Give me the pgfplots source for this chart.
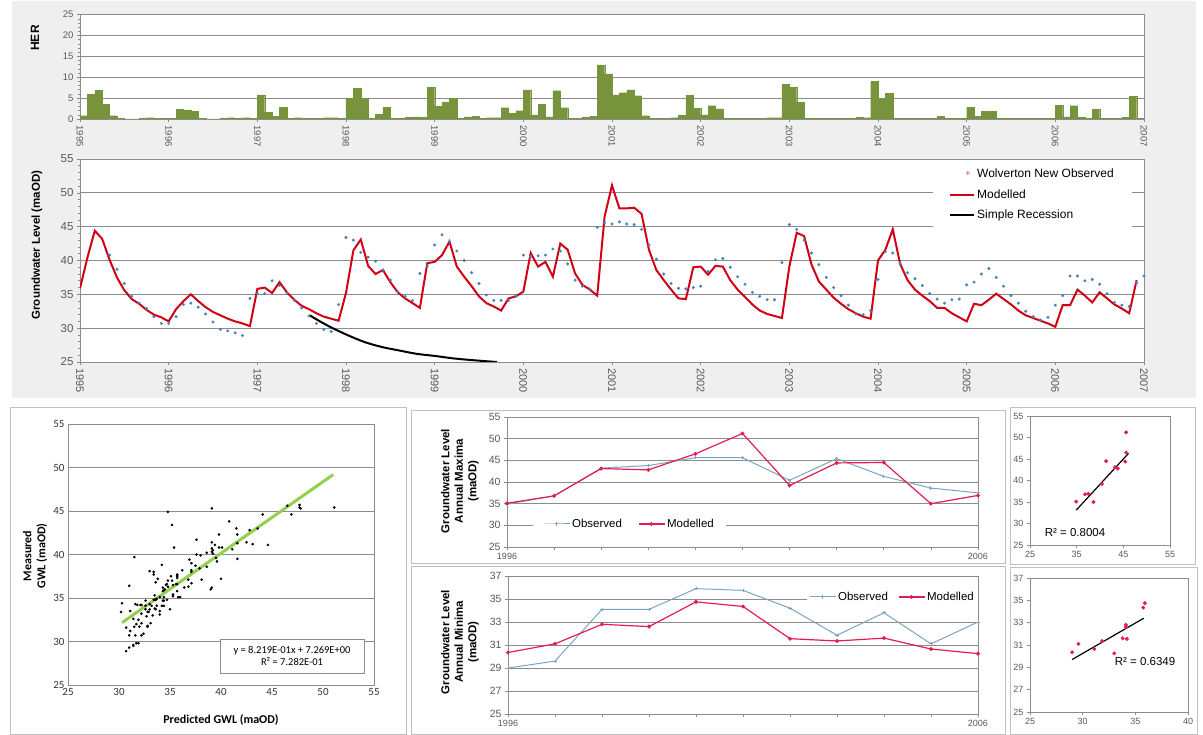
\documentclass[border=0pt]{standalone}
\usepackage{pgfplots}
\pgfplotsset{compat=1.18}
\usepackage{pgfplotstable}
\usepackage{fontspec}
\setmainfont{Liberation Sans}
\newfontfamily\calibri{Carlito}

\definecolor{herg}{RGB}{119,147,60}
\definecolor{obsb}{RGB}{70,130,190}
\definecolor{modr}{RGB}{210,0,20}
\definecolor{gridg}{RGB}{140,140,140}
\definecolor{panelg}{RGB}{239,239,239}
\definecolor{boxg}{RGB}{192,192,192}
\definecolor{annobs}{RGB}{125,165,195}
\definecolor{annmod}{RGB}{225,30,80}
\definecolor{trendg}{RGB}{146,208,80}
\definecolor{tickg}{RGB}{89,89,89}

% monthly series: m = months since Jan 1995
\pgfplotstableread{
m her obs mod
0 0.8 nan 35.9
1 5.9 nan 40.4
2 6.9 nan 44.4
3 3.5 nan 43.2
4 0.8 40.8 40.1
5 0.1 38.7 37.5
6 0.0 36.6 35.6
7 0.0 34.7 34.3
8 0.2 33.7 33.6
9 0.3 32.9 32.7
10 0.2 31.7 32.0
11 0.1 30.7 31.6
12 0.1 30.7 31.0
13 2.3 31.7 32.8
14 2.2 33.5 34.0
15 1.8 33.7 35.0
16 0.2 33.1 34.0
17 0.0 32.1 33.1
18 0.0 30.9 32.4
19 0.2 29.8 31.9
20 0.3 29.6 31.4
21 0.1 29.3 31.0
22 0.3 28.9 30.7
23 0.2 34.4 30.3
24 5.8 35.1 35.8
25 1.6 35.1 36.0
26 0.6 37.0 35.2
27 2.8 36.3 36.8
28 0.1 35.2 35.3
29 0.3 34.1 34.2
30 0.1 33.0 33.3
31 0.1 31.8 32.8
32 0.2 30.7 32.2
33 0.3 29.8 31.7
34 0.3 29.5 31.4
35 0.2 33.5 31.1
36 5.0 43.4 35.2
37 7.4 43.0 41.5
38 5.0 41.2 43.1
39 0.1 40.5 39.2
40 1.1 39.9 38.0
41 2.8 38.6 38.6
42 0.1 37.1 36.8
43 0.2 35.4 35.3
44 0.4 34.7 34.4
45 0.5 34.1 33.7
46 0.4 38.1 33.0
47 7.6 39.2 39.6
48 3.0 42.3 39.8
49 4.0 43.8 40.8
50 5.0 42.8 42.8
51 0.1 41.4 39.1
52 0.5 40.0 37.6
53 0.6 38.2 36.2
54 0.2 36.6 34.7
55 0.3 34.9 33.7
56 0.3 34.1 33.2
57 2.7 34.1 32.6
58 1.3 34.1 34.4
59 2.0 34.8 34.7
60 7.0 40.8 35.4
61 1.0 40.6 41.1
62 3.5 40.7 39.1
63 0.5 40.8 39.8
64 6.8 41.7 37.6
65 2.7 41.4 42.5
66 0.1 39.5 41.6
67 0.2 37.1 38.1
68 0.5 36.2 36.4
69 0.6 35.8 35.7
70 13.0 44.9 34.8
71 10.8 45.6 46.5
72 5.8 45.4 51.1
73 6.3 45.7 47.7
74 7.0 45.4 47.7
75 5.6 45.3 47.8
76 0.8 44.6 46.9
77 0.1 42.3 41.6
78 0.1 40.2 38.6
79 0.2 38.0 37.1
80 0.3 36.6 35.7
81 0.9 35.9 34.4
82 5.7 35.8 34.3
83 2.6 36.0 39.0
84 1.0 36.2 39.1
85 3.2 38.4 37.9
86 2.4 40.1 39.2
87 0.1 40.3 39.1
88 0.1 39.0 37.1
89 0.1 37.6 35.7
90 0.2 36.5 34.6
91 0.1 35.3 33.5
92 0.1 34.7 32.6
93 0.3 34.2 32.1
94 0.3 34.2 31.8
95 8.3 39.7 31.5
96 7.6 45.3 39.1
97 4.0 44.6 44.1
98 0.1 43.0 43.6
99 0.1 41.1 39.4
100 0.2 39.4 36.9
101 0.2 37.5 35.7
102 0.1 36.0 34.5
103 0.1 34.8 33.6
104 0.2 33.4 32.8
105 0.4 32.1 32.2
106 0.3 32.0 31.7
107 9.0 32.6 31.4
108 5.0 37.2 40.0
109 6.2 41.3 41.6
110 0.1 41.1 44.6
111 0.1 39.6 39.5
112 0.1 38.2 37.1
113 0.1 37.3 35.7
114 0.2 36.3 34.8
115 0.2 35.1 34.0
116 0.6 34.3 33.0
117 0.2 33.7 33.0
118 0.1 34.2 32.2
119 0.1 34.3 31.6
120 2.8 36.4 31.0
121 0.6 36.8 33.6
122 1.8 38.0 33.4
123 1.8 38.8 34.2
124 0.1 37.5 35.1
125 0.1 36.2 34.3
126 0.1 34.8 33.5
127 0.1 33.7 32.6
128 0.1 32.5 31.9
129 0.1 31.7 31.5
130 0.1 31.2 31.1
131 0.2 31.6 30.7
132 3.3 33.4 30.2
133 0.5 34.8 33.4
134 3.2 37.7 33.4
135 0.5 37.7 35.7
136 0.1 37.0 34.8
137 2.3 37.2 33.8
138 0.2 36.5 35.3
139 0.1 35.1 34.4
140 0.1 33.8 33.5
141 0.4 33.4 32.9
142 5.5 33.2 32.2
143 0.1 36.7 37.1
144 nan 37.7 nan
}\gwdata

\pgfplotstableread{
year obs mod
1996 34.9 35.1
1997 36.8 36.8
1998 43.2 43.1
1999 43.8 42.8
2000 45.6 46.5
2001 45.6 51.2
2002 40.4 39.2
2003 45.4 44.4
2004 41.3 44.5
2005 38.6 35.0
2006 37.5 36.9
}\maxdata

\pgfplotstableread{
year obs mod
1996 29.0 30.35
1997 29.6 31.1
1998 34.1 32.8
1999 34.1 32.6
2000 35.9 34.75
2001 35.75 34.35
2002 34.2 31.55
2003 31.85 31.35
2004 33.8 31.6
2005 31.1 30.65
2006 33.0 30.25
}\mindata

\pgfplotsset{
  /pgf/number format/assume math mode=true,
  /pgf/number format/1000 sep={},
  excel/.style={
    scale only axis,
    axis background/.style={fill=white},
    axis line style={gridg, line width=0.8pt},
    major grid style={gridg, line width=0.9pt},
    tick style={gridg, line width=0.6pt},
    tick align=outside, tick pos=left,
    major tick length=3pt, minor tick length=2pt,
    tick label style={text=tickg},
  },
}

\begin{document}
\begin{tikzpicture}
\path[use as bounding box, fill=white] (0pt,0pt) rectangle (1203pt,-735pt);
\fill[panelg] (12pt,-1pt) rectangle (1196pt,-398pt);

% HER bars
\begin{axis}[excel,
  at={(80pt,-119pt)}, anchor=south west,
  width=1064pt, height=104.3pt,
  xmin=1995, xmax=2007, ymin=0, ymax=25,
  xtick={1995,...,2007}, ytick={0,5,...,25},
  minor y tick num=4, ymajorgrids,
  xticklabel style={rotate=-90, anchor=west, font=\fontsize{9.5}{10}\selectfont},
  yticklabel style={font=\fontsize{9.5}{10}\selectfont},
]
\addplot[ybar, bar width=0.0833, fill=herg, draw=herg, line width=0.2pt]
  table[x expr=1995+(\thisrow{m}+0.5)/12, y=her] {\gwdata};
\end{axis}

% groundwater levels
\begin{axis}[excel,
  at={(80pt,-362pt)}, anchor=south west,
  width=1064pt, height=203pt,
  xmin=1995, xmax=2007, ymin=25, ymax=55,
  xtick={1995,...,2007}, ytick={25,30,...,55},
  minor y tick num=4, ymajorgrids,
  xticklabel style={rotate=-90, anchor=west, font=\fontsize{11}{12}\selectfont},
  yticklabel style={font=\fontsize{11.5}{12}\selectfont},
  legend style={at={(0.8017,0.985)}, anchor=north west, draw=none, fill=white,
    inner xsep=16pt, inner ysep=5pt, row sep=6pt,
    font=\fontsize{12}{14}\selectfont},
  legend cell align=left,
  legend image code/.code={\draw[#1] (0pt,0pt) -- (24pt,0pt);},
]
\addlegendimage{legend image code/.code={\node[text=red!40!gray, font=\small] at (13pt,0pt) {+};}}
\addlegendentry{Wolverton New Observed}
\addplot[only marks, mark=*, mark size=1.3pt, color=obsb, forget plot]
  table[x expr=1995+\thisrow{m}/12, y=obs] {\gwdata};
\addplot[modr, line width=2pt]
  table[x expr=1995+\thisrow{m}/12, y=mod] {\gwdata};
\addlegendentry{Modelled}
\addplot[black, line width=2pt, smooth] coordinates {
  (1997.59,31.9) (1997.72,30.9) (1997.85,30.0) (1998.03,28.9) (1998.22,27.9)
  (1998.41,27.2) (1998.60,26.7) (1998.80,26.2) (1999.00,25.9) (1999.20,25.55)
  (1999.40,25.3) (1999.70,25.0)};
\addlegendentry{Simple Recession}
\end{axis}
\node[rotate=90, font=\bfseries\fontsize{12}{14}\selectfont] at (35pt,-38pt) {HER};
\node[rotate=90, font=\bfseries\fontsize{11.5}{13}\selectfont] at (37pt,-245pt) {Groundwater Level (maOD)};

% bottom panel frames
\draw[boxg, line width=1pt, fill=white] (10pt,-408pt) rectangle (406pt,-734pt);
\draw[boxg, line width=1pt, fill=white] (411pt,-411pt) rectangle (1005pt,-563pt);
\draw[boxg, line width=1pt, fill=white] (411pt,-566pt) rectangle (1005pt,-734pt);
\draw[boxg, line width=1pt, fill=white] (1010pt,-408pt) rectangle (1195pt,-564pt);
\draw[boxg, line width=1pt, fill=white] (1010pt,-567pt) rectangle (1197pt,-734pt);

% measured vs predicted
\begin{axis}[excel,
  at={(68pt,-685pt)}, anchor=south west,
  width=306pt, height=261pt,
  xmin=25, xmax=55, ymin=25, ymax=55,
  xtick={25,30,...,55}, ytick={25,30,...,55},
  ymajorgrids, major tick length=0pt,
  tick label style={font=\calibri\fontsize{11}{12}\selectfont, text=black!80},
]
\addplot[only marks, mark=*, mark size=1.1pt, black]
  table[x=mod, y=obs] {\gwdata};
\addplot[trendg, line width=3pt] coordinates {(30.3,32.17) (51,49.19)};
\end{axis}
\node[rotate=90, align=center, font=\calibri\bfseries\fontsize{12}{14}\selectfont] at (35pt,-556pt) {Measured\\GWL (maOD)};
\node[font=\calibri\bfseries\fontsize{12}{14}\selectfont] at (221pt,-720pt) {Predicted GWL (maOD)};
\node[draw=gridg, fill=white, align=center, minimum width=144pt, minimum height=34pt,
  font=\calibri\fontsize{10.5}{12.5}\selectfont] at (292pt,-656pt)
  {y = 8.219E-01x + 7.269E+00\\R² = 7.282E-01};

% annual maxima
\begin{axis}[excel,
  at={(507pt,-547pt)}, anchor=south west,
  width=471pt, height=130pt,
  xmin=1996, xmax=2006, ymin=25, ymax=55,
  xtick={1996,...,2006}, xticklabels={1996,,,,,,,,,,2006},
  ytick={25,30,...,55}, ymajorgrids,
  xticklabel style={font=\fontsize{9}{10}\selectfont},
  yticklabel style={font=\fontsize{10.5}{12}\selectfont},
  legend columns=2,
  legend style={at={(0.055,0.177)}, anchor=west, draw=none, fill=white,
    inner xsep=10pt, inner ysep=1pt, font=\fontsize{11.5}{13}\selectfont,
    /tikz/every even column/.append style={column sep=14pt}},
  legend image code/.code={\draw[mark repeat=2, mark phase=2, #1] plot coordinates {(0pt,0pt) (13pt,0pt) (26pt,0pt)};},
]
\addplot[annobs, line width=1pt, mark=+, mark size=1.6pt] table[x=year, y=obs] {\maxdata};
\addlegendentry{Observed}
\addplot[annmod, line width=1.2pt, mark=*, mark size=1.3pt] table[x=year, y=mod] {\maxdata};
\addlegendentry{Modelled}
\end{axis}
\node[rotate=90, align=center, font=\bfseries\fontsize{11.5}{13.5}\selectfont] at (460pt,-481pt) {Groundwater Level\\Annual Maxima\\(maOD)};

% annual minima
\begin{axis}[excel,
  at={(508pt,-714pt)}, anchor=south west,
  width=470pt, height=138pt,
  xmin=1996, xmax=2006, ymin=25, ymax=37,
  xtick={1996,...,2006}, xticklabels={1996,,,,,,,,,,2006},
  ytick={25,27,...,37}, ymajorgrids,
  xticklabel style={font=\fontsize{9}{10}\selectfont},
  yticklabel style={font=\fontsize{10.5}{12}\selectfont},
  legend columns=2,
  legend style={at={(1.0,0.848)}, anchor=east, draw=none, fill=white,
    inner xsep=2pt, inner ysep=1pt, font=\fontsize{11.5}{13}\selectfont,
    /tikz/every even column/.append style={column sep=8pt}},
  legend image code/.code={\draw[mark repeat=2, mark phase=2, #1] plot coordinates {(0pt,0pt) (13pt,0pt) (26pt,0pt)};},
]
\addplot[annobs, line width=1pt, mark=+, mark size=1.6pt] table[x=year, y=obs] {\mindata};
\addlegendentry{Observed}
\addplot[annmod, line width=1.2pt, mark=*, mark size=1.3pt] table[x=year, y=mod] {\mindata};
\addlegendentry{Modelled}
\end{axis}
\node[rotate=90, align=center, font=\bfseries\fontsize{11.5}{13.5}\selectfont] at (460pt,-642pt) {Groundwater Level\\Annual Minima\\(maOD)};

% maxima scatter
\begin{axis}[excel,
  at={(1030pt,-545pt)}, anchor=south west,
  width=140pt, height=129pt,
  xmin=25, xmax=55, ymin=25, ymax=55,
  xtick={25,35,45,55}, ytick={25,30,...,55},
  tick label style={font=\fontsize{9}{10}\selectfont},
]
\addplot[only marks, mark=*, mark size=1.8pt, annmod] table[x=obs, y=mod] {\maxdata};
\addplot[black, line width=1.2pt] coordinates {(34.9,33.1) (46.1,46.3)};
\end{axis}
\node[font=\fontsize{11.5}{13}\selectfont] at (1075pt,-533pt) {R² = 0.8004};

% minima scatter
\begin{axis}[excel,
  at={(1030pt,-712pt)}, anchor=south west,
  width=158pt, height=134pt,
  xmin=25, xmax=40, ymin=25, ymax=37,
  xtick={25,30,35,40}, ytick={25,27,...,37},
  tick label style={font=\fontsize{9}{10}\selectfont},
]
\addplot[only marks, mark=*, mark size=1.8pt, annmod] table[x=obs, y=mod] {\mindata};
\addplot[black, line width=1.2pt] coordinates {(29.0,29.7) (35.8,33.4)};
\end{axis}
\node[font=\fontsize{11.5}{13}\selectfont] at (1145pt,-662pt) {R² = 0.6349};
\end{tikzpicture}
\end{document}
